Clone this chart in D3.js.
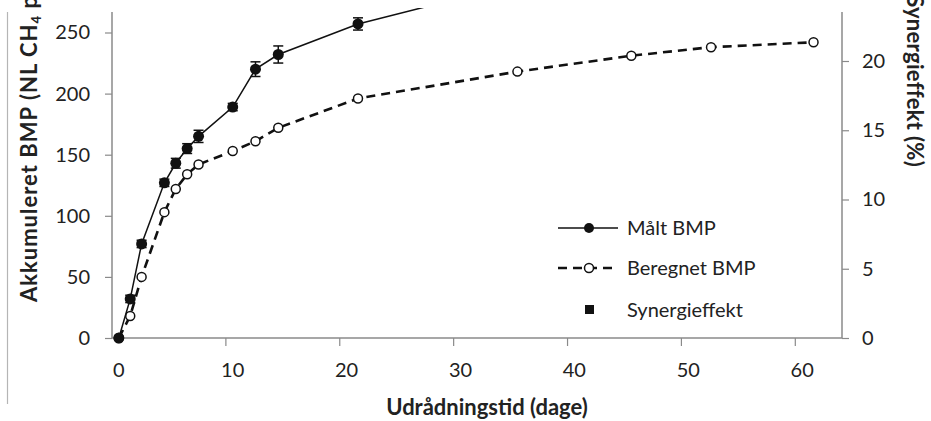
<!DOCTYPE html>
<html>
<head>
<meta charset="utf-8">
<script src="https://cdn.jsdelivr.net/npm/d3@7"></script>
<style>
  html, body { margin: 0; padding: 0; background: #fff; overflow: hidden; }
  svg { display: block; }
  text { font-family: Lato, "Open Sans", sans-serif; fill: #222; }
</style>
</head>
<body>
<svg id="chart" width="931" height="421"></svg>
<script>
// Udrådningstid (dage)
const days = [0, 1, 2, 4, 5, 6, 7, 10, 12, 14, 21, 35, 45, 52, 61];
// Målt BMP (NL CH4 pr. kg VS) with standard deviation
const maaltBMP = [0, 32, 77, 127, 143, 155, 165, 189, 220, 232, 257, 290, 302, 307, 310];
const maaltSD  = [0, 3, 3, 3, 4, 4, 5, 3, 6, 7, 5, 6, 6, 6, 6];
// Beregnet BMP
const beregnetBMP = [0, 18, 50, 103, 122, 134, 142, 153, 161, 172, 196, 218, 231, 238, 242];

const xTicks = [0, 10, 20, 30, 40, 50, 60];
const yTicks = [0, 50, 100, 150, 200, 250];
const y2Ticks = [0, 5, 10, 15, 20];

const svg = d3.select("#chart");
const plotLeft = 112, plotRight = 842, plotBottom = 338, plotTop = 12;

const xMin = -0.6;
const x = d3.scaleLinear().domain([xMin, 63.5]).range([plotLeft, plotRight]);
const y = d3.scaleLinear().domain([0, 250]).range([plotBottom, 32.5]);
const y2 = d3.scaleLinear().domain([0, 20]).range([plotBottom, 61]);

const axisColor = "#8a8a8a";
const tickFont = "20px";
const titleFont = "22px";

// outer chart border (left edge)
svg.append("line").attr("x1", 7.5).attr("x2", 7.5).attr("y1", 12).attr("y2", 404)
  .attr("stroke", "#b5b5b5").attr("stroke-width", 1.2);

// left axis
const gy = svg.append("g").attr("transform", `translate(${plotLeft},0)`)
  .call(d3.axisLeft(y).tickValues(yTicks).tickSize(7).tickSizeOuter(0).tickPadding(15));
gy.select(".domain").remove();
gy.selectAll(".tick line").attr("stroke", axisColor).attr("stroke-width", 1.2);
gy.selectAll(".tick text").style("font-size", tickFont).style("font-family", "Lato").attr("fill", "#2a2a2a");
svg.append("line").attr("x1", plotLeft).attr("x2", plotLeft).attr("y1", plotTop).attr("y2", plotBottom)
  .attr("stroke", axisColor).attr("stroke-width", 1.5);

// right axis
const gy2 = svg.append("g").attr("transform", `translate(${plotRight},0)`)
  .call(d3.axisRight(y2).tickValues(y2Ticks).tickSize(7).tickSizeOuter(0).tickPadding(13));
gy2.select(".domain").remove();
gy2.selectAll(".tick line").attr("stroke", axisColor).attr("stroke-width", 1.2);
gy2.selectAll(".tick text").style("font-size", tickFont).style("font-family", "Lato").attr("fill", "#2a2a2a");
svg.append("line").attr("x1", plotRight).attr("x2", plotRight).attr("y1", plotTop).attr("y2", plotBottom)
  .attr("stroke", axisColor).attr("stroke-width", 1.5);

// x axis: tick marks every 10 days counted from the axis minimum, labels at the round values
svg.append("line").attr("x1", plotLeft).attr("x2", plotRight).attr("y1", plotBottom).attr("y2", plotBottom)
  .attr("stroke", axisColor).attr("stroke-width", 1.5);
svg.append("g").selectAll("line").data(xTicks.slice(1)).join("line")
  .attr("x1", d => x(xMin + d)).attr("x2", d => x(xMin + d))
  .attr("y1", plotBottom).attr("y2", plotBottom + 8)
  .attr("stroke", axisColor).attr("stroke-width", 1.2);
svg.append("g").selectAll("text").data(xTicks).join("text")
  .attr("x", d => x(d)).attr("y", 377)
  .attr("text-anchor", "middle").style("font-size", tickFont).attr("fill", "#2a2a2a")
  .text(d => d);

// axis titles
svg.append("text").attr("x", 487).attr("y", 415).attr("text-anchor", "middle")
  .style("font-size", titleFont).style("font-weight", "bold").attr("fill", "#1a1a1a")
  .text("Udrådningstid (dage)");

const yl = svg.append("text").attr("transform", "translate(37,302) rotate(-90)")
  .style("font-size", titleFont).style("font-weight", "bold").style("letter-spacing", "1px")
  .attr("fill", "#1a1a1a");
yl.append("tspan").text("Akkumuleret BMP (NL CH");
yl.append("tspan").text("4").style("font-size", "13px").attr("dy", 4);
yl.append("tspan").text(" pr. kg VS)").attr("dy", -4);

svg.append("text").attr("transform", "translate(907,167) rotate(90)").attr("text-anchor", "end")
  .style("font-size", titleFont).style("font-weight", "bold").style("letter-spacing", "0.3px")
  .attr("fill", "#1a1a1a")
  .text("Synergieffekt (%)");

// data area
svg.append("clipPath").attr("id", "plotclip").append("rect")
  .attr("x", plotLeft).attr("y", 8).attr("width", plotRight - plotLeft).attr("height", plotBottom - 8 + 10);
const plot = svg.append("g").attr("clip-path", "url(#plotclip)");

const pts = days.map((d, i) => ({ d, m: maaltBMP[i], sd: maaltSD[i], b: beregnetBMP[i] }));

// Beregnet BMP: dashed line, open circles
plot.append("path").datum(pts)
  .attr("d", d3.line().x(p => x(p.d)).y(p => y(p.b)))
  .attr("fill", "none").attr("stroke", "#111").attr("stroke-width", 2.6)
  .attr("stroke-dasharray", "9,6");
plot.append("g").selectAll("circle").data(pts).join("circle")
  .attr("cx", p => x(p.d)).attr("cy", p => y(p.b)).attr("r", 4.5)
  .attr("fill", "#fff").attr("stroke", "#111").attr("stroke-width", 1.5);

// Målt BMP: solid line, error bars, filled circles
plot.append("path").datum(pts)
  .attr("d", d3.line().x(p => x(p.d)).y(p => y(p.m)))
  .attr("fill", "none").attr("stroke", "#111").attr("stroke-width", 1.5);
const eb = plot.append("g").selectAll("g").data(pts.filter(p => p.sd > 0)).join("g")
  .attr("stroke", "#111").attr("stroke-width", 1.5);
eb.append("line").attr("x1", p => x(p.d)).attr("x2", p => x(p.d))
  .attr("y1", p => y(p.m - p.sd)).attr("y2", p => y(p.m + p.sd));
eb.append("line").attr("x1", p => x(p.d) - 5).attr("x2", p => x(p.d) + 5)
  .attr("y1", p => y(p.m + p.sd)).attr("y2", p => y(p.m + p.sd));
eb.append("line").attr("x1", p => x(p.d) - 5).attr("x2", p => x(p.d) + 5)
  .attr("y1", p => y(p.m - p.sd)).attr("y2", p => y(p.m - p.sd));
plot.append("g").selectAll("circle").data(pts).join("circle")
  .attr("cx", p => x(p.d)).attr("cy", p => y(p.m)).attr("r", 5.5)
  .attr("fill", "#111");

// legend
const lg = svg.append("g");
const lx0 = 558, lx1 = 618, lmid = 589, ltx = 627;
const rows = [228, 268, 310];
lg.append("line").attr("x1", lx0).attr("x2", lx1).attr("y1", rows[0]).attr("y2", rows[0])
  .attr("stroke", "#111").attr("stroke-width", 1.5);
lg.append("circle").attr("cx", lmid).attr("cy", rows[0]).attr("r", 5).attr("fill", "#111");
lg.append("line").attr("x1", lx0).attr("x2", lx1).attr("y1", rows[1]).attr("y2", rows[1])
  .attr("stroke", "#111").attr("stroke-width", 2.6).attr("stroke-dasharray", "9,6");
lg.append("circle").attr("cx", lmid).attr("cy", rows[1]).attr("r", 4.5)
  .attr("fill", "#fff").attr("stroke", "#111").attr("stroke-width", 1.5);
lg.append("rect").attr("x", lmid - 4).attr("y", rows[2] - 5).attr("width", 9).attr("height", 9)
  .attr("fill", "#111");
const labels = ["Målt BMP", "Beregnet BMP", "Synergieffekt"];
lg.selectAll("text.lab").data(labels).join("text").attr("class", "lab")
  .attr("x", ltx).attr("y", (d, i) => rows[i] + 7)
  .style("font-size", "20px").attr("fill", "#222").text(d => d);
</script>
</body>
</html>
